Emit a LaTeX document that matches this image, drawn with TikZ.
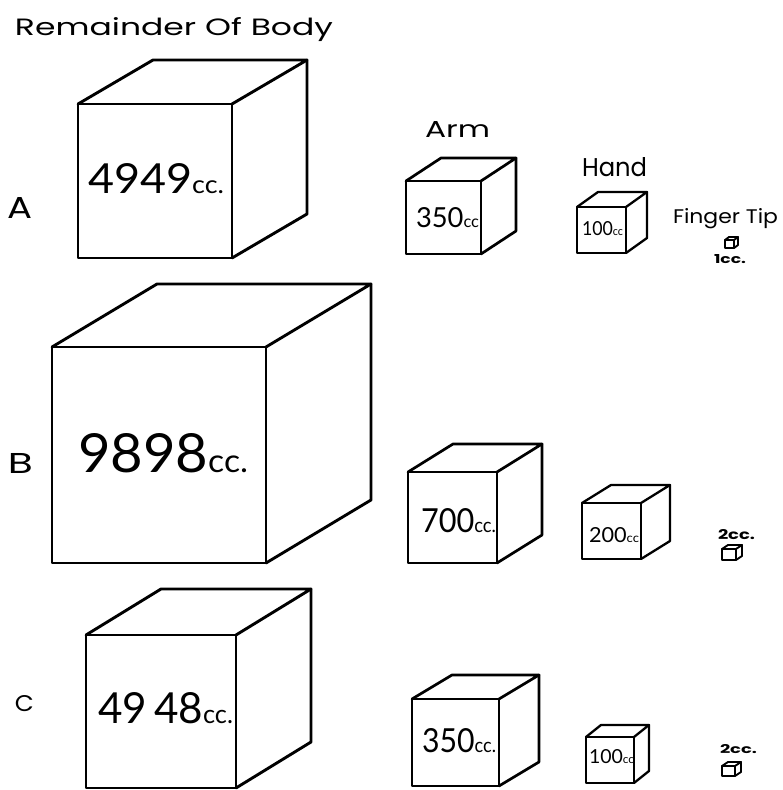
\documentclass[tikz,border=0pt]{standalone}
\usepackage{fontspec}
\usepackage{graphicx}
\setmainfont{Lato}
\newfontfamily\handfont{Poppins}
\newcommand{\fitt}[3]{\resizebox{#1pt}{#2pt}{#3}}
\newcommand{\smcc}[1]{\scalebox{0.6}{#1}}
\newcommand{\drawcube}[8]{%
  \coordinate (#1-ftl) at (#3,#4);
  \coordinate (#1-ftr) at (#5,#4);
  \coordinate (#1-fbr) at (#5,#6);
  \coordinate (#1-fbl) at (#3,#6);
  \coordinate (#1-btl) at ({#3+#7},{#4-#8});
  \coordinate (#1-btr) at ({#5+#7},{#4-#8});
  \coordinate (#1-bbr) at ({#5+#7},{#6-#8});
  \draw[#2] (#1-ftl) -- (#1-ftr) -- (#1-fbr) -- (#1-fbl) -- cycle;
  \draw[#2] (#1-ftl) -- (#1-btl) -- (#1-btr) -- (#1-ftr);
  \draw[#2] (#1-btr) -- (#1-bbr) -- (#1-fbr);
}
\tikzset{
  bigline/.style={line width=2.9pt, line join=round, line cap=round},
  armline/.style={line width=2.7pt, line join=round, line cap=round},
  handline/.style={line width=2.3pt, line join=round, line cap=round},
  tinyline/.style={line width=1.9pt, line join=round, line cap=round},
  lbl/.style={inner sep=0pt, outer sep=0pt, anchor=base west},
}
\begin{document}
\begin{tikzpicture}[x=1pt,y=-1pt]
\fill[white] (0,0) rectangle (782,790);
\useasboundingbox (0,0) rectangle (782,790);

% title and row letters
\node[lbl] (title) at (15,35) {\fitt{318}{18}{\handfont Remainder Of Body}};
\node[lbl] (rowA) at (7,218) {\fitt{25}{21}{\handfont A}};
\node[lbl] (rowB) at (8,473) {\fitt{25}{20}{\handfont B}};
\node[lbl] (rowC) at (15,711) {\fitt{19}{16}{\handfont C}};

% column headers
\node[lbl] (arm) at (425,137) {\fitt{65}{16}{\handfont Arm}};
\node[lbl] (hand) at (582,176) {\fitt{65}{19}{\handfont Hand}};
\node[lbl] (finger) at (673,223) {\fitt{105}{15}{\handfont Finger Tip}};

% row A
\drawcube{bodyA}{bigline}{78}{104}{232}{258}{75}{44}
\drawcube{armA}{armline}{406}{181}{481}{254}{35}{23}
\drawcube{handA}{handline}{577}{207}{626}{253}{21}{15}
\drawcube{tipA}{tinyline}{725}{240}{734}{248}{4}{3}
\node[lbl] (vbodyA) at (88,193) {\fitt{136}{30}{4949\smcc{cc.}}};
\node[lbl] (varmA) at (416,227) {\fitt{63}{20}{350\smcc{cc}}};
\node[lbl] (vhandA) at (582,235) {\fitt{41}{14}{100\smcc{cc}}};
\node[lbl] (vtipA) at (714,263) {\fitt{32}{9}{\handfont\bfseries 1cc.}};

% row B
\drawcube{bodyB}{bigline}{52}{347}{266}{563}{105}{63}
\drawcube{armB}{armline}{408}{472}{497}{563}{45}{28}
\drawcube{handB}{handline}{582}{503}{641}{559}{29}{18}
\drawcube{tipB}{tinyline}{722}{549}{736}{560}{6}{4}
\node[lbl] (vbodyB) at (78,472) {\fitt{170}{39}{9898\smcc{cc.}}};
\node[lbl] (varmB) at (421,532) {\fitt{75}{24}{700\smcc{cc.}}};
\node[lbl] (vhandB) at (589,542) {\fitt{50}{15}{200\smcc{cc}}};
\node[lbl] (vtipB) at (718,539) {\fitt{37}{10}{\handfont\bfseries 2cc.}};

% row C
\drawcube{bodyC}{bigline}{86}{635}{236}{788}{75}{46}
\drawcube{armC}{armline}{412}{699}{499}{786}{40}{24}
\drawcube{handC}{handline}{586}{737}{634}{783}{15}{12}
\drawcube{tipC}{tinyline}{722}{766}{735}{776}{6}{4}
\node[lbl] (vbodyC) at (98,723) {\fitt{135}{31}{49\,48\smcc{cc.}}};
\node[lbl] (varmC) at (422,752) {\fitt{74}{24}{350\smcc{cc.}}};
\node[lbl] (vhandC) at (589,763) {\fitt{45}{14}{100\smcc{cc}}};
\node[lbl] (vtipC) at (720,753) {\fitt{37}{9}{\handfont\bfseries 2cc.}};
\end{tikzpicture}
\end{document}
